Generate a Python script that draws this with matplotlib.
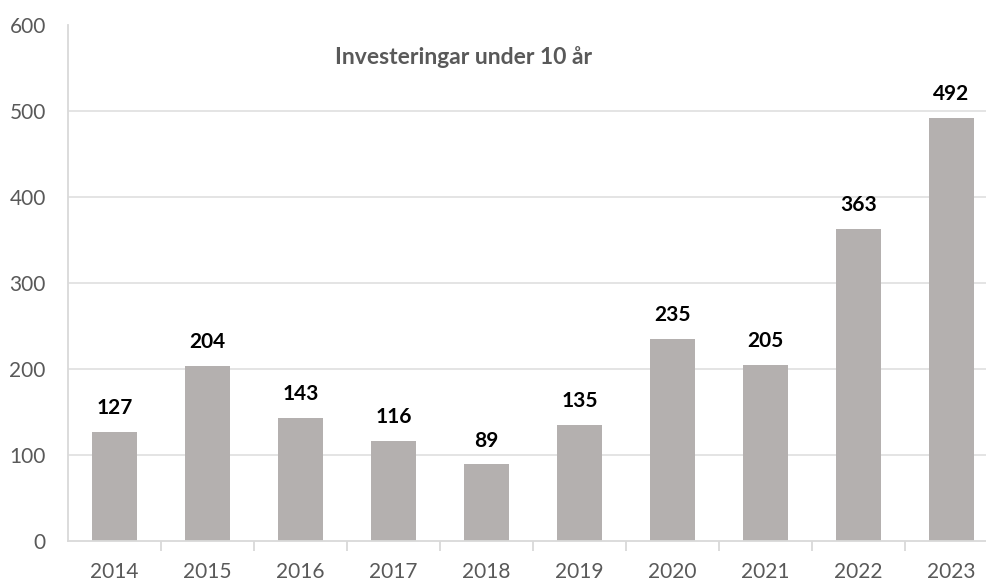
import matplotlib.pyplot as plt

plt.rcParams['font.family'] = ['Lato', 'DejaVu Sans']

years = ["2014", "2015", "2016", "2017", "2018", "2019", "2020", "2021", "2022", "2023"]
values = [127, 204, 143, 116, 89, 135, 235, 205, 363, 492]
title = "Investeringar under 10 år"

fig = plt.figure(figsize=(9.87, 5.8), dpi=100)
ax = fig.add_axes([68 / 987, 1 - 541 / 580, 930 / 987, (541 - 25) / 580])

x = list(range(len(years)))
bars = ax.bar(x, values, width=0.48, color="#b4b0af", zorder=2)
for rect, v in zip(bars, values):
    ax.annotate(str(v), (rect.get_x() + rect.get_width() / 2, v),
                xytext=(0, 10), textcoords="offset points",
                ha="center", va="bottom", fontsize=15, fontweight="bold", color="black")

ax.set_xlim(-0.5, len(years) - 0.5)
ax.set_ylim(0, 600)
ax.set_yticks(range(0, 601, 100))
for yv in range(100, 600, 100):
    ax.axhline(yv, color="#e2e2e2", lw=1.3, zorder=1)

ax.set_xticks(x)
ax.set_xticklabels(years)
ax.set_xticks([i + 0.5 for i in x[:-1]], minor=True)
ax.tick_params(axis="x", which="major", length=0, pad=15, labelsize=15, labelcolor="#595959")
ax.tick_params(axis="x", which="minor", length=7, width=1.3, color="#d9d9d9")
ax.tick_params(axis="y", length=0, pad=16, labelsize=15, labelcolor="#595959")

for s in ["top", "right"]:
    ax.spines[s].set_visible(False)
for s in ["left", "bottom"]:
    ax.spines[s].set_color("#d9d9d9")
    ax.spines[s].set_linewidth(1.3)

fig.text(464 / 987, 1 - 57 / 580, title, ha="center", va="center",
         fontsize=16.5, fontweight="bold", color="#595959")

fig.savefig("out.png", dpi=100)
